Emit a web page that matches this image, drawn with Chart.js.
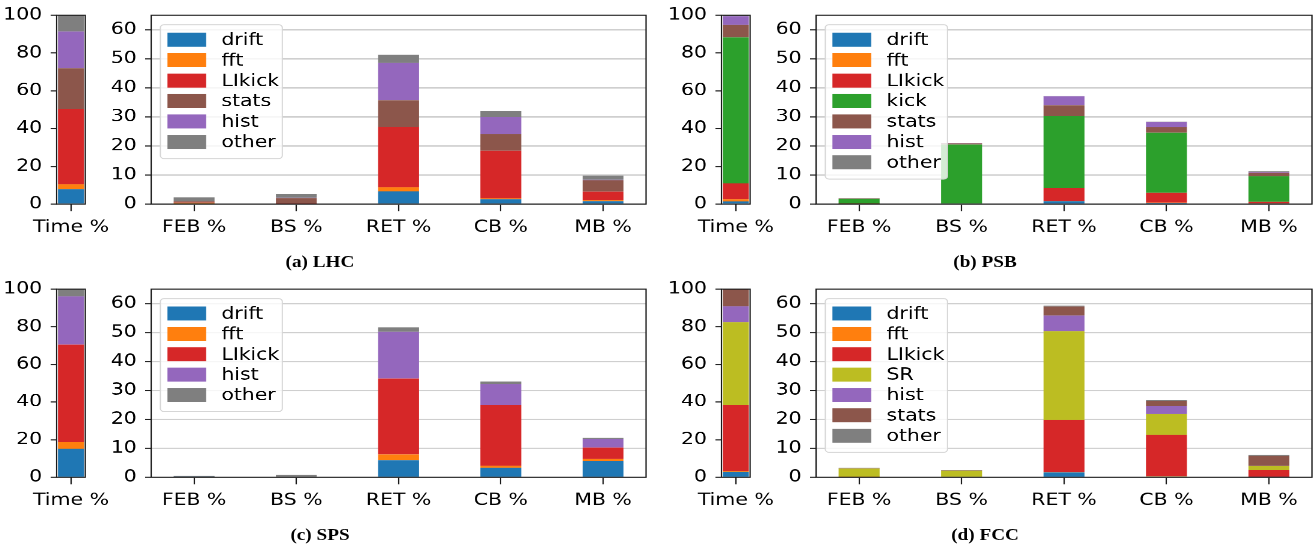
<!DOCTYPE html>
<html>
<head>
<meta charset="utf-8">
<script src="https://cdn.jsdelivr.net/npm/chart.js@4.4.1/dist/chart.umd.min.js"></script>
<style>
  body { margin: 0; background: #fff; overflow: hidden; }
  /* the reference figure is stretched sideways, so we draw narrow and stretch back */
  #fig { position: relative; width: 1095px; height: 552px; transform: scaleX(1.2); transform-origin: 0 0; }
  .box { position: absolute; }
  .cap { position: absolute; font: bold 16px "Liberation Serif", serif; transform: translate(-50%, -50%); white-space: nowrap; color: #000; }
</style>
</head>
<body>
<div id="fig"></div>
<script>
// ---- data: [Time %, FEB %, BS %, RET %, CB %, MB %] ----
const categories = ['FEB %', 'BS %', 'RET %', 'CB %', 'MB %'];
const timeLabel = ['Time %'];
const timeTicks = [0, 20, 40, 60, 80, 100];
const wideTicks = [0, 10, 20, 30, 40, 50, 60];

const lhcDrift  = [7.9, 0.1, 0.0, 4.4, 1.7, 1.0];
const lhcFft    = [2.6, 0.35, 0.0, 1.4, 0.3, 0.4];
const lhcLIkick = [40.0, 0.1, 0.1, 20.8, 16.4, 2.9];
const lhcStats  = [21.4, 0.45, 2.0, 9.1, 5.7, 3.9];
const lhcHist   = [19.5, 0.05, 0.1, 12.9, 5.9, 0.2];
const lhcOther  = [8.6, 1.25, 1.3, 2.8, 2.0, 1.4];

const psbDrift  = [1.4, 0.0, 0.0, 1.0, 0.4, 0.1];
const psbFft    = [1.2, 0.0, 0.0, 0.1, 0.1, 0.2];
const psbLIkick = [8.4, 0.05, 0.0, 4.5, 3.4, 0.5];
const psbKick   = [77.3, 1.8, 20.5, 24.7, 20.7, 8.8];
const psbStats  = [6.6, 0.15, 0.4, 3.7, 1.9, 1.2];
const psbHist   = [4.6, 0.05, 0.2, 3.1, 1.8, 0.3];
const psbOther  = [0.5, 0.0, 0.0, 0.1, 0.1, 0.2];

const spsDrift  = [15.2, 0.05, 0.0, 5.9, 3.3, 5.6];
const spsFft    = [3.5, 0.0, 0.0, 2.0, 0.7, 0.7];
const spsLIkick = [51.8, 0.0, 0.0, 26.2, 20.9, 4.0];
const spsHist   = [25.7, 0.0, 0.0, 16.2, 7.3, 2.9];
const spsOther  = [3.8, 0.4, 0.8, 1.5, 0.9, 0.5];

const fccDrift  = [2.8, 0.0, 0.0, 1.7, 0.3, 0.05];
const fccFft    = [0.5, 0.0, 0.0, 0.1, 0.1, 0.05];
const fccLIkick = [35.3, 0.05, 0.0, 18.0, 14.3, 2.4];
const fccSR     = [43.9, 3.0, 2.3, 30.7, 7.2, 1.4];
const fccHist   = [8.4, 0.0, 0.0, 5.4, 2.7, 0.1];
const fccStats  = [9.1, 0.1, 0.1, 3.1, 1.8, 3.4];
const fccOther  = [0.0, 0.1, 0.1, 0.3, 0.2, 0.3];

const COLORS = {
  drift: '#1f77b4', fft: '#ff7f0e', LIkick: '#d62728', kick: '#2ca02c',
  SR: '#bcbd22', stats: '#8c564b', hist: '#9467bd', other: '#7f7f7f'
};

const panels = [
  { caption: '(a) LHC', dx: 0, dy: 0, series: [
    ['drift', lhcDrift], ['fft', lhcFft], ['LIkick', lhcLIkick], ['stats', lhcStats], ['hist', lhcHist], ['other', lhcOther]] },
  { caption: '(b) PSB', dx: 665, dy: 0, series: [
    ['drift', psbDrift], ['fft', psbFft], ['LIkick', psbLIkick], ['kick', psbKick], ['stats', psbStats], ['hist', psbHist], ['other', psbOther]] },
  { caption: '(c) SPS', dx: 0, dy: 273.4, series: [
    ['drift', spsDrift], ['fft', spsFft], ['LIkick', spsLIkick], ['hist', spsHist], ['other', spsOther]] },
  { caption: '(d) FCC', dx: 665, dy: 273.4, series: [
    ['drift', fccDrift], ['fft', fccFft], ['LIkick', fccLIkick], ['SR', fccSR], ['hist', fccHist], ['stats', fccStats], ['other', fccOther]] },
];

// ---- layout (page px, before the sideways stretch) ----
const S = 1.2;
const NARROW = { left: 56.7, right: 85.3 };
const WIDE = { left: 150.7, right: 646 };
const PLOT_TOP = 13.3, PLOT_BOTTOM = 204;
const PT = 15, XH = 40;

Chart.defaults.font.family = '"DejaVu Sans", sans-serif';
Chart.defaults.font.size = 17;
Chart.defaults.color = '#000';

// matplotlib style box around the plot area
Chart.register({
  id: 'frame',
  afterDraw(chart) {
    const { ctx, chartArea: a } = chart;
    ctx.save();
    ctx.strokeStyle = '#1a1a1a';
    ctx.lineWidth = 1.1;
    ctx.strokeRect(a.left, a.top, a.right - a.left, a.bottom - a.top);
    ctx.restore();
  }
});

// legend in a half see-through rounded box, upper left
Chart.register({
  id: 'boxLegend',
  defaults: { display: false },
  afterDraw(chart, args, opts) {
    if (!opts.display) return;
    const { ctx, chartArea: a } = chart;
    const sets = chart.data.datasets;
    const left = a.left + 7.7, top = a.top + 9.4, w = 101.7;
    const step = 20.4, first = 15;
    const h = first + (sets.length - 1) * step + 16.7;
    ctx.save();
    ctx.beginPath();
    ctx.roundRect(left, top, w, h, 3);
    ctx.fillStyle = 'rgba(255,255,255,0.8)';
    ctx.fill();
    ctx.strokeStyle = '#d6d6d6';
    ctx.lineWidth = 1;
    ctx.stroke();
    ctx.font = '17px "DejaVu Sans"';
    ctx.textBaseline = 'middle';
    sets.forEach((ds, i) => {
      const cy = top + first + i * step;
      ctx.fillStyle = ds.backgroundColor;
      ctx.fillRect(left + 5.9, cy - 7, 32.3, 14);
      ctx.fillStyle = '#000';
      ctx.fillText(ds.label, left + 50.9, cy + 1);
    });
    ctx.restore();
  }
});

const fig = document.getElementById('fig');

// yw / pr: room left and right of the plot, wide enough that Chart.js
// never has to squeeze the plot for a tick label
function addChart(rect, yw, pr, config) {
  const l = rect.left / S, r = rect.right / S;
  const div = document.createElement('div');
  div.className = 'box';
  div.style.left = (l - yw) + 'px';
  div.style.top = (rect.top - PT) + 'px';
  div.style.width = (yw + r - l + pr) + 'px';
  div.style.height = (PT + rect.bottom - rect.top + XH) + 'px';
  const canvas = document.createElement('canvas');
  div.appendChild(canvas);
  fig.appendChild(div);
  new Chart(canvas, config);
}

function makeOptions(yw, pr, xMin, xMax, xLabels, yMax, yTicks, yGrid, legend) {
  return {
    animation: false,
    responsive: true,
    maintainAspectRatio: false,
    devicePixelRatio: 2,
    layout: { padding: { left: 0, top: PT, right: pr, bottom: 0 } },
    plugins: { legend: { display: false }, tooltip: { enabled: false }, boxLegend: { display: legend } },
    scales: {
      x: {
        type: 'linear', stacked: true, min: xMin, max: xMax, offset: false,
        afterBuildTicks: s => { s.ticks = xLabels.map((_, i) => ({ value: i })); },
        afterFit: s => { s.height = XH; },
        ticks: { callback: (v, i) => xLabels[i], maxRotation: 0, minRotation: 0, autoSkip: false, padding: 6 },
        grid: { offset: false, drawOnChartArea: false, tickLength: 7, tickColor: '#1a1a1a', tickWidth: 1.1 },
        border: { display: false }
      },
      y: {
        stacked: true, min: 0, max: yMax,
        afterBuildTicks: s => { s.ticks = yTicks.map(v => ({ value: v })); },
        afterFit: s => { s.width = yw; },
        ticks: { padding: 7 },
        grid: {
          drawOnChartArea: yGrid, color: '#cfcfcf', lineWidth: 1.4,
          tickLength: 5, tickColor: '#1a1a1a', tickWidth: 1.1
        },
        border: { display: false }
      }
    }
  };
}

panels.forEach(p => {
  const top = PLOT_TOP + p.dy, bottom = PLOT_BOTTOM + p.dy;

  // narrow Time % bar
  addChart({ left: NARROW.left + p.dx, right: NARROW.right + p.dx, top, bottom }, 70, 70, {
    type: 'bar',
    data: {
      datasets: p.series.map(([name, vals]) => ({
        label: name,
        data: [{ x: 0, y: vals[0] }],
        backgroundColor: COLORS[name],
        borderWidth: 0,
        categoryPercentage: 0.4 / 0.44,
        barPercentage: 1
      }))
    },
    options: makeOptions(70, 70, -0.22, 0.22, timeLabel, 100, timeTicks, false, false)
  });

  // per-category breakdown
  addChart({ left: WIDE.left + p.dx, right: WIDE.right + p.dx, top, bottom }, 50, 25, {
    type: 'bar',
    data: {
      datasets: p.series.map(([name, vals]) => ({
        label: name,
        data: vals.slice(1).map((y, i) => ({ x: i, y })),
        backgroundColor: COLORS[name],
        borderWidth: 0,
        categoryPercentage: 0.4,
        barPercentage: 1
      }))
    },
    options: makeOptions(50, 25, -0.42, 4.42, categories, 65, wideTicks, true, true)
  });

  const cap = document.createElement('div');
  cap.className = 'cap';
  cap.textContent = p.caption;
  cap.style.left = ((320 + p.dx) / S) + 'px';
  cap.style.top = (261.6 + p.dy) + 'px';
  fig.appendChild(cap);
});
</script>
</body>
</html>
